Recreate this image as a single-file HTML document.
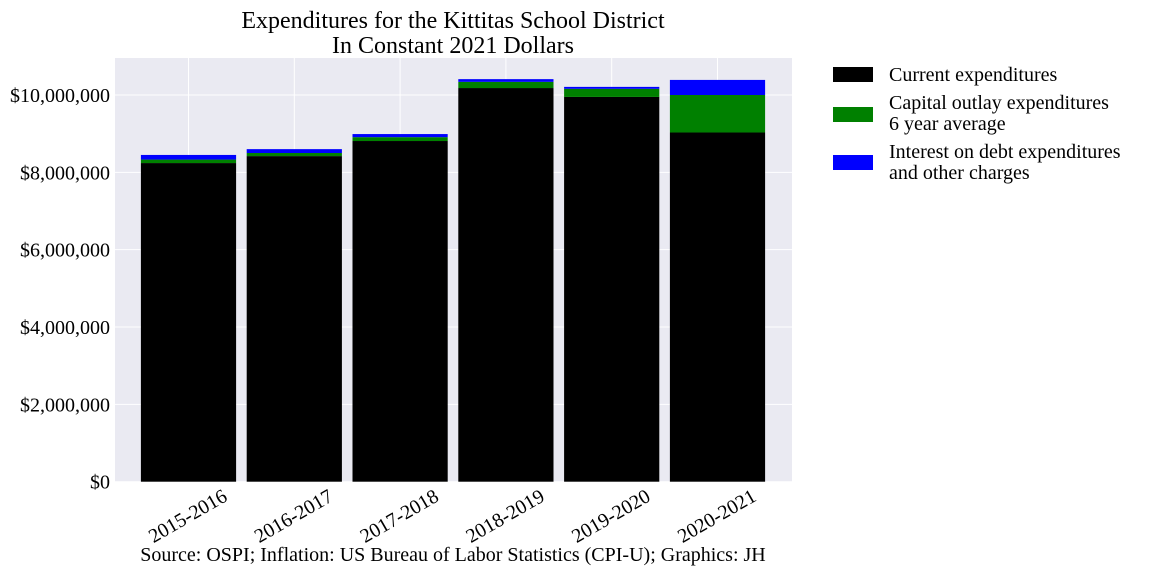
<!DOCTYPE html>
<html><head><meta charset="utf-8"><style>
body{margin:0;background:#fff;font-family:"Liberation Serif",serif;}
svg text{font-family:"Liberation Serif",serif;fill:#000;}
</style></head><body>
<svg width="1152" height="576" xmlns="http://www.w3.org/2000/svg">
<rect x="115" y="58" width="677" height="423.5" fill="#eaeaf2"/>
<g id="grid"></g><g id="bars"></g><g id="axes"></g>
<text x="453" y="28" font-size="24" text-anchor="middle">Expenditures for the Kittitas School District</text>
<text x="453" y="53" font-size="24" text-anchor="middle">In Constant 2021 Dollars</text>
<text x="453" y="561" font-size="20" text-anchor="middle">Source: OSPI; Inflation: US Bureau of Labor Statistics (CPI-U); Graphics: JH</text>
<g>
<rect x="833" y="67" width="40" height="15" fill="#000"/>
<text x="889" y="81" font-size="20">Current expenditures</text>
<rect x="833" y="107" width="40" height="15" fill="#008000"/>
<text x="889" y="109" font-size="20">Capital outlay expenditures</text>
<text x="889" y="130" font-size="20">6 year average</text>
<rect x="833" y="155" width="40" height="15" fill="#0000ff"/>
<text x="889" y="158" font-size="20">Interest on debt expenditures</text>
<text x="889" y="179" font-size="20">and other charges</text>
</g>
</svg>
<script>
const categories=["2015-2016","2016-2017","2017-2018","2018-2019","2019-2020","2020-2021"];
const currentExp=[8240000,8420000,8810000,10180000,9950000,9030000];
const capitalExp=[90000,80000,100000,160000,210000,970000];
const interestExp=[120000,100000,80000,70000,50000,390000];
const yTicks=[0,2000000,4000000,6000000,8000000,10000000];
const NS="http://www.w3.org/2000/svg";
const y0=481.7, pxPerM=38.67;
function y(v){return y0-v/1e6*pxPerM;}
function xc(i){return 188.5+i*105.8;}
const bw=95.2;
function mk(tag,attrs,parent){const e=document.createElementNS(NS,tag);for(const k in attrs)e.setAttribute(k,attrs[k]);document.getElementById(parent).appendChild(e);return e;}
yTicks.forEach((t,i)=>{
  const l=mk("line",{x1:115,x2:792,y1:y(t),y2:y(t),stroke:"#fff","stroke-width":1},"grid");
  
  
  const tx=mk("text",{x:110,y:y(t)+7,"font-size":20,"text-anchor":"end"},"axes");
  tx.textContent="$"+t.toLocaleString("en-US");
  
  
});
categories.forEach((c,i)=>{
  const gl=mk("line",{x1:xc(i),x2:xc(i),y1:58,y2:481.5,stroke:"#fff","stroke-width":1},"grid");
  
  
  const x=xc(i)-bw/2;
  const a=currentExp[i],b=capitalExp[i],d=interestExp[i];
  const r1=mk("rect",{x:x,width:bw,y:y(a),height:y(0)-y(a),fill:"#000"},"bars");
  
  
  const r2=mk("rect",{x:x,width:bw,y:y(a+b),height:y(a)-y(a+b),fill:"#008000"},"bars");
  
  
  const r3=mk("rect",{x:x,width:bw,y:y(a+b+d),height:y(a+b)-y(a+b+d),fill:"#0000ff"},"bars");
  
  
  const tx=mk("text",{x:xc(i)+40,y:500,"font-size":20,"text-anchor":"end",transform:"rotate(-30 "+(xc(i)+40)+" 500)"},"axes");
  tx.textContent=c;
  
  
});
</script>
</body></html>
